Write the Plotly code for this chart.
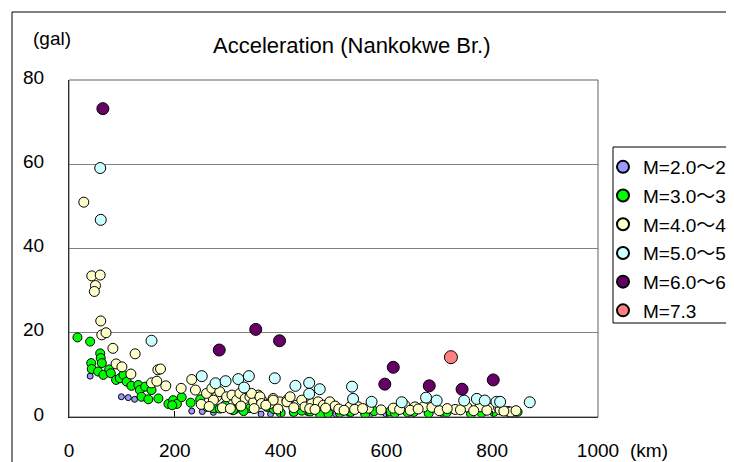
import plotly.graph_objects as go

# ---- data (distance km, acceleration gal) ----
series_names = ["M=2.0〜2.9", "M=3.0〜3.9", "M=4.0〜4.9", "M=5.0〜5.9", "M=6.0〜6.9", "M=7.3"]

blue_km = [40, 99, 112, 124, 232, 252, 273, 363, 381, 401, 423, 504, 568, 599, 648]
blue_gal = [9.7, 4.8, 4.6, 4.2, 1.4, 1.3, 1.1, 0.7, 0.7, 0.8, 0.9, 0.7, 0.5, 0.7, 0.5]

green_km = [16, 40, 42, 43, 55, 59, 60, 62, 65, 76, 79, 89, 96, 103, 109, 118, 131, 134, 137, 144,
            150, 156, 169, 188, 197, 204, 213, 248, 273, 295, 195, 230, 261, 285, 314, 342, 374, 387, 425, 452,
            456, 475, 512, 531, 533, 577, 607, 616, 652, 705, 714, 760, 803, 840, 848, 310, 330, 400, 440, 490,
            560, 640, 680, 780]
green_gal = [18.9, 17.9, 12.8, 11.4, 10.8, 15.1, 14.0, 12.8, 10.0, 11.3, 10.4, 8.8, 9.2, 10.0, 8.4, 7.4, 7.6, 6.4, 4.8, 7.2,
             4.2, 6.4, 4.4, 3.1, 4.0, 3.1, 4.7, 4.2, 2.1, 2.8, 2.8, 3.4, 2.4, 2.0, 1.9, 2.1, 2.4, 1.9, 1.2, 1.4,
             1.3, 0.5, 1.0, 1.1, 1.2, 1.4, 1.3, 0.9, 1.2, 1.2, 1.1, 0.8, 1.2, 1.0, 1.2, 1.6, 1.4, 1.0, 1.5, 0.9,
             0.7, 1.1, 0.9, 1.0]

yellow_km = [28, 43, 59, 50, 48, 60, 62, 70, 83, 125, 89, 100, 117, 168, 173, 156, 166, 183, 212, 232, 239,
             260, 270, 279, 285, 273, 298, 308, 317, 323, 333, 342, 349, 358, 364, 380, 386, 399, 412,
             345, 361, 364, 386, 412, 418, 430, 440, 446, 459, 471, 481, 493, 503, 531, 547, 566, 613, 635, 654,
             670, 686, 730, 752, 777, 799, 812, 815, 830, 835,
             250, 265, 290, 305, 325, 350, 372, 395, 425, 455, 465, 485, 510, 520, 540, 555, 590, 625, 645, 660,
             700, 715, 740, 765, 790, 822, 845]
yellow_gal = [51.0, 33.5, 33.7, 31.2, 29.8, 22.8, 19.5, 20.0, 16.3, 15.0, 12.6, 11.9, 10.2, 11.2, 11.4, 8.1, 8.5, 7.4, 6.8, 8.9, 6.4,
              5.6, 6.8, 4.8, 6.0, 4.0, 4.8, 5.2, 4.0, 5.6, 4.4, 4.8, 3.6, 5.2, 4.0, 3.2, 4.4, 3.6, 4.0,
              5.6, 4.8, 3.2, 4.0, 3.6, 4.8, 2.8, 4.0, 2.4, 3.2, 3.6, 2.8, 3.6, 2.6, 2.4, 2.4, 2.1, 2.1, 2.8, 2.4,
              2.4, 2.3, 1.8, 2.4, 2.4, 2.1, 2.3, 1.7, 1.3, 1.2,
              3.0, 2.5, 2.2, 2.0, 2.6, 2.0, 2.8, 1.9, 2.2, 2.0, 1.8, 2.1, 1.9, 1.6, 1.8, 2.0, 1.7, 1.8, 1.6, 1.9,
              1.5, 2.0, 1.7, 1.5, 1.6, 1.4, 1.5]

cyan_km = [59, 60, 156, 251, 277, 296, 320, 340, 331, 389, 428, 454, 474, 454, 535, 537, 572, 629, 675, 695,
           747, 771, 786, 808, 815, 871]
cyan_gal = [59.1, 46.8, 18.1, 9.7, 8.0, 8.5, 9.0, 9.7, 7.0, 9.2, 7.4, 8.1, 6.6, 5.5, 7.2, 4.3, 3.6, 3.5, 4.6, 3.9,
            3.9, 4.3, 3.9, 3.6, 3.6, 3.5]

purple_km = [64, 284, 353, 398, 613, 597, 681, 743, 802]
purple_gal = [73.2, 15.9, 20.8, 18.1, 11.8, 7.8, 7.4, 6.6, 8.8]

pink_km = [722]
pink_gal = [14.2]

x_ticks = [0, 200, 400, 600, 800, 1000]
y_ticks = [0, 20, 40, 60, 80]

FONT = "Liberation Sans, Arial, Noto Sans CJK JP, sans-serif"

series = [
    (blue_km, blue_gal, "#9999FF", 6),
    (green_km, green_gal, "#00FF00", 9),
    (yellow_km, yellow_gal, "#FFFFCC", 10),
    (cyan_km, cyan_gal, "#CCFFFF", 11),
    (purple_km, purple_gal, "#660066", 12),
    (pink_km, pink_gal, "#FF8080", 13),
]

fig = go.Figure()
for name, (xs, ys, col, sz) in zip(series_names, series):
    fig.add_trace(go.Scatter(
        x=xs, y=ys, mode="markers", name=name, legendgroup=name,
        marker=dict(color=col, size=sz, line=dict(color="black", width=1)),
    ))

# The page body adds an 8px offset; work in screen pixels and convert.
OFF = 8
W, H = 734 - OFF, 462 - OFF
PL, PR, PT, PB = 69, 598, 80, 417          # plot area in screen pixels
L, T = PL - OFF, PT - OFF
R, B = W - (PR - OFF), H - (PB - OFF)
pw, ph = W - L - R, H - T - B

def px(p):
    return (p - PL) / pw

def py(p):
    return (PB - p) / ph

fig.update_layout(
    width=W, height=H,
    margin=dict(l=L, r=R, t=T, b=B, autoexpand=False),
    paper_bgcolor="white", plot_bgcolor="white",
    font=dict(family=FONT, color="black", size=17),
    showlegend=True,
    legend=dict(
        x=px(603), y=py(148), xanchor="left", yanchor="top",
        bgcolor="rgba(0,0,0,0)", borderwidth=0,
        font=dict(size=19, family=FONT), itemsizing="constant",
        tracegroupgap=1, traceorder="grouped",
    ),
    xaxis=dict(
        range=[0, 1000], tickvals=x_ticks, ticktext=[str(v) for v in x_ticks],
        showgrid=False, zeroline=False, showline=True, linecolor="black", linewidth=1,
        ticks="inside", ticklen=6, tickcolor="black",
        tickfont=dict(size=19), ticklabelstandoff=16,
    ),
    yaxis=dict(
        range=[0, 80], tickvals=y_ticks, ticktext=[str(v) for v in y_ticks],
        showgrid=True, gridcolor="#808080", gridwidth=1, zeroline=False,
        showline=True, linecolor="black", linewidth=1, ticks="",
        tickfont=dict(size=19), ticklabelstandoff=20, ticklabelshift=-3,
    ),
    shapes=[
        dict(type="rect", xref="paper", yref="paper", x0=0, x1=1, y0=0, y1=1,
             line=dict(color="#606060", width=1), layer="above"),
        dict(type="rect", xref="paper", yref="paper", x0=px(12), x1=px(900), y0=py(12), y1=py(600),
             line=dict(color="black", width=1)),
        dict(type="rect", xref="paper", yref="paper", x0=px(613), x1=px(800), y0=py(147), y1=py(323),
             line=dict(color="black", width=1), fillcolor="white", layer="below"),
    ],
    annotations=[
        dict(text="Acceleration (Nankokwe Br.)", xref="paper", yref="paper", x=px(352), y=py(45),
             showarrow=False, xanchor="center", yanchor="middle", font=dict(size=22)),
        dict(text="(gal)", xref="paper", yref="paper", x=px(52), y=py(39),
             showarrow=False, xanchor="center", yanchor="middle", font=dict(size=19)),
        dict(text="(km)", xref="paper", yref="paper", x=px(628), y=py(450),
             showarrow=False, xanchor="left", yanchor="middle", font=dict(size=19)),
    ],
)

fig.write_html("out.html")
